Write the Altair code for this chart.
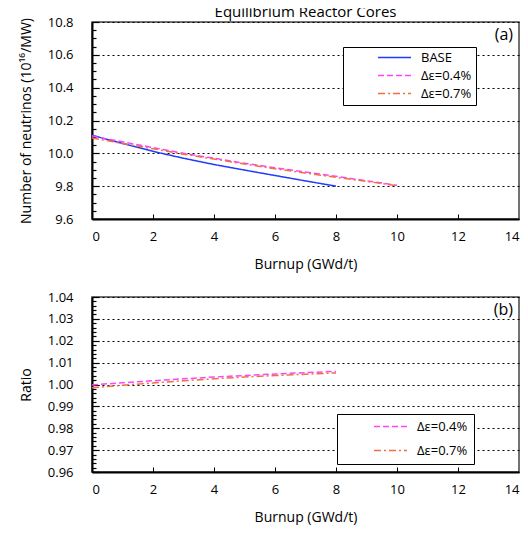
import altair as alt
import pandas as pd

# ---------------- data ----------------
burnup_base = [0, 1, 2, 3, 4, 5, 6, 7, 8]
n_base = [10.11, 10.06, 10.012, 9.97, 9.932, 9.898, 9.865, 9.832, 9.80]

burnup_de = [0, 1, 2, 3, 4, 5, 6, 7, 8, 9, 10]
n_de04 = [10.105, 10.07, 10.035, 10.0, 9.97, 9.94, 9.912, 9.886, 9.86, 9.833, 9.805]
n_de07 = [10.094, 10.06, 10.028, 9.995, 9.965, 9.935, 9.906, 9.88, 9.854, 9.829, 9.803]

burnup_ratio = [0, 1, 2, 3, 4, 5, 6, 7, 8]
ratio_de04 = [0.9998, 1.0008, 1.0017, 1.0026, 1.0034, 1.0041, 1.0048, 1.0054, 1.0060]
ratio_de07 = [0.9985, 0.9997, 1.0007, 1.0017, 1.0026, 1.0034, 1.0041, 1.0047, 1.0053]

series_top = ["BASE", "Δε=0.4%", "Δε=0.7%"]
series_bot = ["Δε=0.4%", "Δε=0.7%"]
colors_top = ["#1f3bff", "#ff44ff", "#f07040"]
colors_bot = ["#ff44ff", "#f07040"]
dash_top = [[1, 0], [6, 3], [7, 3, 2, 3]]
dash_bot = [[6, 3], [7, 3, 2, 3]]

x_ticks = [0, 2, 4, 6, 8, 10, 12, 14]
y_ticks_top = [9.6, 9.8, 10.0, 10.2, 10.4, 10.6, 10.8]
y_ticks_bot = [0.96, 0.97, 0.98, 0.99, 1.00, 1.01, 1.02, 1.03, 1.04]
y_minor_top = [round(9.6 + 0.05 * i, 3) for i in range(25)]
y_minor_bot = [round(0.96 + 0.002 * i, 4) for i in range(41)]

top_df = pd.concat([
    pd.DataFrame({"burnup": burnup_base, "value": n_base, "series": series_top[0]}),
    pd.DataFrame({"burnup": burnup_de, "value": n_de04, "series": series_top[1]}),
    pd.DataFrame({"burnup": burnup_de, "value": n_de07, "series": series_top[2]}),
])
bot_df = pd.concat([
    pd.DataFrame({"burnup": burnup_ratio, "value": ratio_de04, "series": series_bot[0]}),
    pd.DataFrame({"burnup": burnup_ratio, "value": ratio_de07, "series": series_bot[1]}),
])

W = 427
H1 = 197
H2 = 175
FONT = "Open Sans"
NBSP = "\u00a0" * 10
TICK = "black"


def panel(df, H, ydom, yticks, yminor, yfmt, ytitle, series, colors, dashes,
          major_test, tag, lx, ly, lpad, lrow):
    xs = alt.Scale(domain=[0, 14], nice=False, zero=False)
    ys = alt.Scale(domain=ydom, nice=False, zero=False)
    lines = alt.Chart(df).mark_line(strokeWidth=1.5, clip=True).encode(
        x=alt.X("burnup:Q", scale=xs, axis=alt.Axis(
            values=x_ticks, format="d", title="Burnup (GWd/t)",
            ticks=False, tickSize=0, labelPadding=11, grid=False,
            domainColor="black", domainWidth=2,
            labelFont=FONT, labelFontSize=13, labelColor="black",
            titleFont=FONT, titleFontSize=14, titleFontWeight="normal",
            titleColor="black", titlePadding=14)),
        y=alt.Y("value:Q", scale=ys, axis=alt.Axis(
            values=yticks, format=yfmt, title=ytitle,
            ticks=False, tickSize=0, labelPadding=19,
            grid=True, gridColor="black", gridDash=[2, 3], gridWidth=1,
            domainColor="black", domainWidth=2,
            labelFont=FONT, labelFontSize=13, labelColor="black",
            titleFont=FONT, titleFontSize=14, titleFontWeight="normal",
            titleColor="black", titlePadding=14)),
        color=alt.Color("series:N", scale=alt.Scale(domain=series, range=colors),
                        legend=alt.Legend(
                            title=None, orient="none", legendX=lx, legendY=ly,
                            strokeColor="black", fillColor="white",
                            padding=lpad, rowPadding=lrow,
                            symbolType="M-3.3,0H3.3", symbolSize=100,
                            symbolStrokeWidth=1.5, symbolOffset=41,
                            labelOffset=20, labelFont=FONT, labelFontSize=13,
                            labelColor="black",
                            labelExpr="datum.label + '" + NBSP + "'")),
        strokeDash=alt.StrokeDash("series:N",
                                  scale=alt.Scale(domain=series, range=dashes),
                                  legend=None),
    )
    ticks = alt.Chart(df).mark_line(opacity=0).encode(
        x=alt.X("burnup:Q", scale=xs, axis=alt.Axis(
            orient="top", offset=-H, values=x_ticks[1:-1], labels=False,
            domain=False, grid=False, title=None, tickSize=5,
            tickColor=TICK, tickWidth=1)),
        y=alt.Y("value:Q", scale=ys, axis=alt.Axis(
            orient="right", offset=-W, values=yminor, labels=False,
            domain=False, grid=False, title=None,
            tickSize={"condition": {"test": major_test, "value": 7}, "value": 4},
            tickColor=TICK, tickWidth=1.2)),
    )
    label = alt.Chart(pd.DataFrame({"t": [tag]})).mark_text(
        align="right", baseline="middle", font=FONT, fontSize=16, color="black"
    ).encode(text="t:N", x=alt.value(W - 6), y=alt.value(13))
    return alt.layer(lines, ticks, label).resolve_scale(
        x="independent", y="independent").properties(width=W, height=H)


top = panel(top_df, H1, [9.6, 10.8], y_ticks_top, y_minor_top, ".1f",
            "Number of neutrinos (10¹⁶/MW)", series_top, colors_top, dash_top,
            "abs(datum.value*5 - round(datum.value*5)) < 0.001", "(a)",
            251, 25, 4, 4).properties(
    title=alt.TitleParams("Equilibrium Reactor Cores", font=FONT, fontSize=15,
                          fontWeight="normal", color="black", anchor="middle",
                          frame="group", offset=-4))

bot = panel(bot_df, H2, [0.96, 1.04], y_ticks_bot, y_minor_bot, ".2f",
            "Ratio", series_bot, colors_bot, dash_bot,
            "abs(datum.value*100 - round(datum.value*100)) < 0.001", "(b)",
            245, 117, 6, 10)

chart = alt.vconcat(top, bot, spacing=18).resolve_scale(
    color="independent", strokeDash="independent").properties(
    padding={"left": 10, "top": -4, "right": 0, "bottom": 0}
).configure_view(stroke="#444", strokeWidth=1.5)

chart.save("out.html", embed_options={"renderer": "svg", "actions": False})
